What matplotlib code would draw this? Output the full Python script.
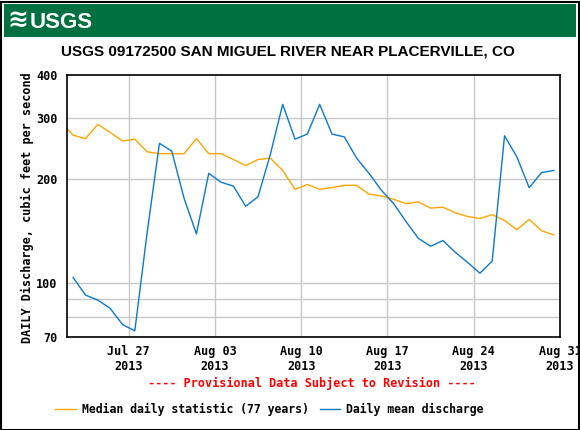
import datetime as dt
import matplotlib
matplotlib.use("Agg")
import matplotlib.pyplot as plt
from matplotlib.ticker import FixedLocator, NullFormatter
from matplotlib.patches import Rectangle

W, H = 580, 430

# daily values, noon of each day starting Jul 21 (median) / Jul 22 (mean)
median_start = dt.datetime(2013, 7, 21, 12)
median_cfs = [292, 268, 262, 288, 273, 258, 261, 240, 237, 237, 237,
              262, 237, 237, 228, 219, 228, 230, 212, 187, 193,
              187, 189, 192, 192, 181, 179, 175, 170, 172, 165,
              166, 160, 156, 154, 158, 152, 143, 153, 142, 138]

mean_start = dt.datetime(2013, 7, 22, 12)
mean_cfs = [104, 92.5, 89.5, 84.7, 76.1, 72.9, 140, 254, 241, 176,
            139, 208, 196, 191, 167, 178, 236, 329, 261, 270,
            329, 270, 265, 230, 208, 186, 170, 151, 135, 128,
            133, 123, 115, 107, 116, 267, 232, 189, 209, 212]

x_ticks = ["2013-07-27", "2013-08-03", "2013-08-10", "2013-08-17", "2013-08-24", "2013-08-31"]
y_ticks = [70, 100, 200, 300, 400]
y_grid = [80, 90, 100, 200, 300]

median_dates = [median_start + dt.timedelta(days=i) for i in range(len(median_cfs))]
mean_dates = [mean_start + dt.timedelta(days=i) for i in range(len(mean_cfs))]

mono = ["DejaVu Sans Mono"]
sans = ["Liberation Sans", "DejaVu Sans"]
orange = "#FFA500"
blue = "#0A7ACC"


def px(x, y):
    return x / W, 1 - y / H


fig = plt.figure(figsize=(W / 100, H / 100), dpi=100)
fig.patch.set_facecolor("white")

# outer frame and green banner
fig.add_artist(Rectangle((0.5 / W, 0.5 / H), (W - 2) / W, (H - 2) / H, transform=fig.transFigure,
                         fill=False, edgecolor="black", linewidth=1.5))
fig.add_artist(Rectangle(px(4, 37), 572 / W, 33 / H, transform=fig.transFigure,
                         facecolor="#007040", edgecolor="none"))
fig.text(*px(7, 21), "\u224B", color="white", fontsize=18, fontweight="bold", va="center", ha="left")
fig.text(*px(30, 22), "USGS", color="white", fontsize=16, fontweight="bold", va="center", ha="left",
         family=sans)

fig.text(*px(288, 52), "USGS 09172500 SAN MIGUEL RIVER NEAR PLACERVILLE, CO",
         fontsize=11, fontweight="bold", ha="center", va="center", family=sans)

ax = fig.add_axes([67 / W, 1 - 337 / H, 493 / W, 262 / H])
ax.set_yscale("log")
ax.plot(median_dates, median_cfs, color=orange, linewidth=1.0)
ax.plot(mean_dates, mean_cfs, color=blue, linewidth=1.0)

ax.set_xlim(dt.datetime(2013, 7, 22), dt.datetime(2013, 8, 31))
ax.set_ylim(70, 400)

tick_dates = [dt.datetime.strptime(s, "%Y-%m-%d") for s in x_ticks]
ax.set_xticks(tick_dates)
ax.set_xticklabels([d.strftime("%b %d\n%Y") for d in tick_dates], family=mono,
                   fontsize=8.5, fontweight="bold", linespacing=1.15)
ax.yaxis.set_major_locator(FixedLocator(y_ticks))
ax.yaxis.set_major_formatter(plt.FixedFormatter([str(v) for v in y_ticks]))
ax.yaxis.set_minor_locator(FixedLocator([]))
ax.yaxis.set_minor_formatter(NullFormatter())
for lab in ax.get_yticklabels():
    lab.set_family(mono)
    lab.set_fontsize(8.5)
    lab.set_fontweight("bold")
ax.tick_params(length=0, pad=7)
ax.tick_params(axis="x", pad=6)

for v in y_grid:
    ax.axhline(v, color="#C8C8C8", linewidth=1, zorder=0)
for d in tick_dates[:-1]:
    ax.axvline(d, color="#C8C8C8", linewidth=1, zorder=0)

for s in ax.spines.values():
    s.set_linewidth(1.2)

fig.text(*px(27, 208), "DAILY Discharge, cubic feet per second", rotation=90,
         family=mono, fontsize=8.5, fontweight="bold", ha="center", va="center")

fig.text(*px(312, 383), "---- Provisional Data Subject to Revision ----", color="red",
         family=mono, fontsize=8.5, fontweight="bold", ha="center", va="center")

# legend
fig.add_artist(plt.Line2D([55 / W, 76 / W], [1 - 409 / H] * 2, color=orange, linewidth=1.0))
fig.text(*px(82, 409), "Median daily statistic (77 years)", family=mono, fontsize=8.3,
         fontweight="bold", ha="left", va="center")
fig.add_artist(plt.Line2D([320 / W, 340 / W], [1 - 409 / H] * 2, color=blue, linewidth=1.0))
fig.text(*px(346, 409), "Daily mean discharge", family=mono, fontsize=8.3,
         fontweight="bold", ha="left", va="center")

fig.savefig("out.png", dpi=100)
